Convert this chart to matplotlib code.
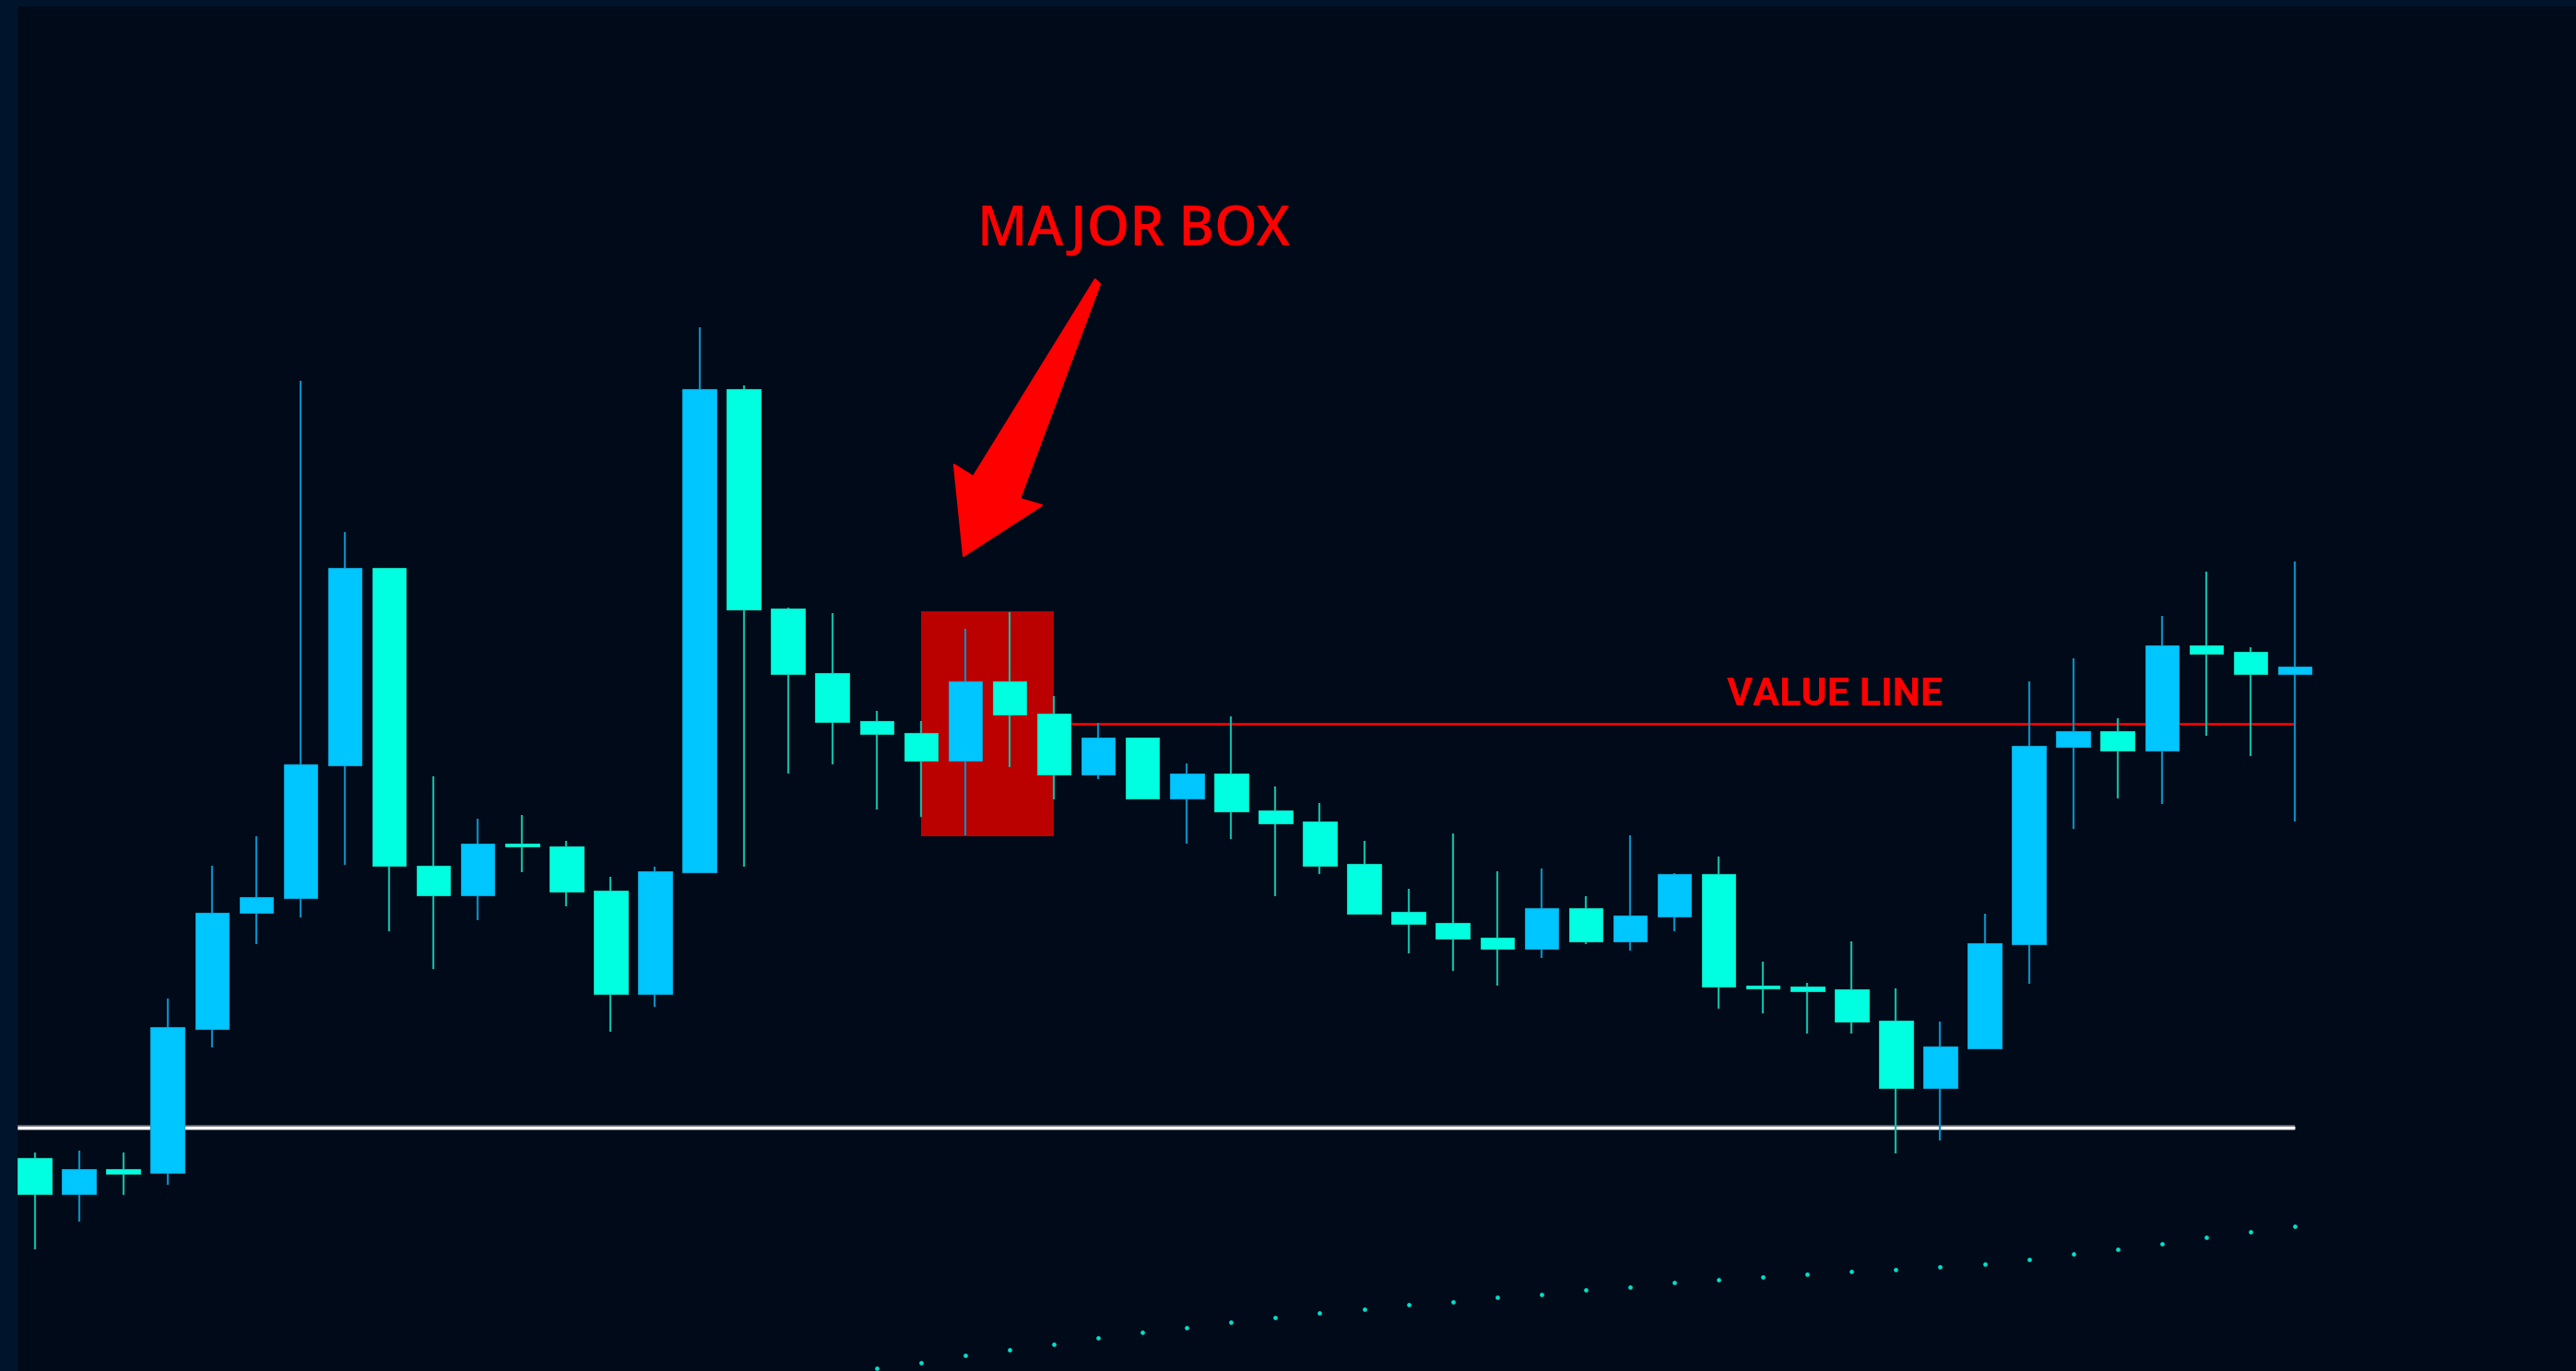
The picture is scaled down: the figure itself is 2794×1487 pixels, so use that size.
import matplotlib
matplotlib.use("Agg")
import matplotlib.pyplot as plt
from matplotlib.patches import Rectangle, Polygon
from matplotlib import font_manager
import numpy as np

# candle data (O, H, L, C)
opens = [23.1, 19.2, 21.9, 21.5, 37.1, 49.7, 51.3, 65.7, 87.1, 54.8,
         51.6, 57.2, 56.9, 52.1, 40.9, 54.1, 106.5, 82.7, 75.7, 70.5,
         69.2, 66.2, 74.8, 71.3, 64.7, 68.7, 62.1, 64.8, 60.8, 59.6,
         55.0, 49.8, 48.6, 47.0, 45.8, 50.2, 46.6, 49.3, 53.9, 41.8,
         41.7, 41.4, 38.0, 30.7, 35.0, 46.3, 67.7, 69.4, 67.3, 78.7,
         78.0, 75.6]
highs = [23.7, 23.9, 23.7, 40.4, 54.8, 58.0, 107.4, 91.0, 87.1, 64.5,
         59.9, 60.3, 57.5, 53.6, 54.7, 113.2, 106.9, 82.8, 82.2, 71.6,
         70.5, 80.5, 82.3, 73.2, 70.3, 68.7, 65.9, 71.0, 63.4, 61.6,
         57.5, 52.3, 58.3, 54.2, 54.5, 51.5, 58.1, 54.0, 55.8, 44.4,
         42.1, 46.6, 41.5, 37.9, 49.6, 74.8, 77.3, 70.8, 81.9, 86.7,
         78.5, 87.8]
lows = [13.2, 16.2, 19.1, 20.2, 35.1, 46.3, 49.2, 54.9, 47.7, 43.6,
        48.9, 54.1, 50.4, 36.8, 39.5, 54.0, 54.7, 64.8, 65.8, 60.9,
        60.1, 58.1, 65.5, 62.0, 64.2, 62.1, 57.2, 57.7, 51.5, 53.9,
        49.6, 45.3, 43.4, 41.8, 44.8, 46.3, 45.6, 47.7, 39.3, 38.8,
        36.6, 36.6, 23.6, 25.0, 35.0, 42.0, 58.8, 62.1, 61.5, 68.9,
        66.7, 59.6]
closes = [19.2, 21.9, 21.4, 37.3, 49.7, 51.4, 65.8, 87.1, 54.8, 51.6,
          57.2, 56.9, 52.0, 40.9, 54.2, 106.5, 82.6, 75.6, 70.4, 69.1,
          66.2, 74.8, 71.2, 64.7, 68.7, 62.1, 64.8, 60.7, 59.4, 54.8,
          49.6, 48.5, 46.9, 45.8, 50.2, 46.6, 49.4, 53.9, 41.7, 41.5,
          41.2, 37.9, 30.7, 35.2, 46.4, 67.8, 69.4, 67.3, 78.7, 77.8,
          75.6, 76.4]

# dotted indicator (starts at candle 19)
dot_start = 19
dot_values = [0.3, 0.9, 1.7, 2.3, 2.9, 3.6, 4.2, 4.7, 5.3, 5.8, 6.3,
              6.7, 7.2, 7.5, 8.0, 8.3, 8.8, 9.1, 9.6, 9.9, 10.2, 10.5,
              10.8, 11.0, 11.3, 11.6, 12.1, 12.7, 13.2, 13.8, 14.5,
              15.1, 15.7]

support_level = 26.4
value_level = 70.2
box_x = (20, 23)
box_price = (58.0, 82.4)

UP = "#00c6ff"
DOWN = "#00ffe0"
UP_WICK = "#0a8cc0"
DOWN_WICK = "#12b8a4"
BG = "#000a18"
FRAME = "#00152c"


def pick_font(names):
    have = {f.name for f in font_manager.fontManager.ttflist}
    for n in names:
        if n in have:
            return n
    return "DejaVu Sans"


narrow = pick_font(["Liberation Sans Narrow", "Roboto", "Liberation Sans"])
heavy = pick_font(["Open Sans", "Lato", "DejaVu Sans"])

fig = plt.figure(figsize=(27.94, 14.87), dpi=100, facecolor=FRAME)
ax = fig.add_axes([19 / 2794, 0, 2775 / 2794, 1480 / 1487])
ax.set_facecolor(BG)
ax.set_xlim(-0.385, 57.345)
ax.set_ylim(0, 148.0)
ax.set_xticks([])
ax.set_yticks([])
for s in ax.spines.values():
    s.set_visible(False)

x = np.arange(len(opens))
o = np.array(opens)
c = np.array(closes)
up = c >= o

# major box behind the candles
ax.add_patch(Rectangle((box_x[0], box_price[0]), box_x[1] - box_x[0],
                       box_price[1] - box_price[0], facecolor="#bb0000",
                       edgecolor="none", zorder=1))

# horizontal levels
ax.plot([-0.385, len(opens) - 1], [support_level] * 2, color="#5c6270",
        lw=4.2, zorder=2, solid_capstyle="butt")
ax.plot([-0.385, len(opens) - 1], [support_level] * 2, color="white",
        lw=2.4, zorder=2.1, solid_capstyle="butt")
ax.plot([box_x[1], len(opens) - 1], [value_level] * 2, color="#ff0000",
        lw=1.9, zorder=2, solid_capstyle="butt")

# candles
wick_cols = [UP_WICK if u else DOWN_WICK for u in up]
ax.vlines(x, lows, highs, colors=wick_cols, lw=1.6, zorder=3)
body_bottom = np.minimum(o, c)
body_h = np.maximum(np.abs(c - o), 0.3)
ax.bar(x, body_h, bottom=body_bottom, width=0.76,
       color=[UP if u else DOWN for u in up],
       edgecolor=["#0aa6d6" if u else "#10d6bd" for u in up],
       linewidth=0.8, zorder=4)

# dotted indicator
ax.plot(np.arange(dot_start, dot_start + len(dot_values)), dot_values,
        linestyle="none", marker="o", markersize=3.4, color="#00e0cc",
        markeredgewidth=0, zorder=3)

# labels
ax.text(24.79, 122.1, "MAJOR BOX", color="#ff0000", fontsize=42.5,
        fontweight="semibold", family=heavy, ha="center", va="baseline",
        zorder=6)
ax.text(40.62, 72.2, "VALUE LINE", color="#ff0000", fontsize=31,
        fontweight="bold", family=narrow, ha="center", va="baseline",
        zorder=6)

# arrow pointing at the box
arrow_pts = [(23.93, 118.4), (24.04, 117.9), (22.23, 94.6), (22.73, 93.9),
             (20.96, 88.4), (20.75, 98.3), (21.18, 97.0)]
ax.add_patch(Polygon(arrow_pts, closed=True, facecolor="#ff0000",
                     edgecolor="#ff0000", lw=1.5, joinstyle="round",
                     zorder=6))

fig.savefig("out.png", dpi=100, facecolor=FRAME)
